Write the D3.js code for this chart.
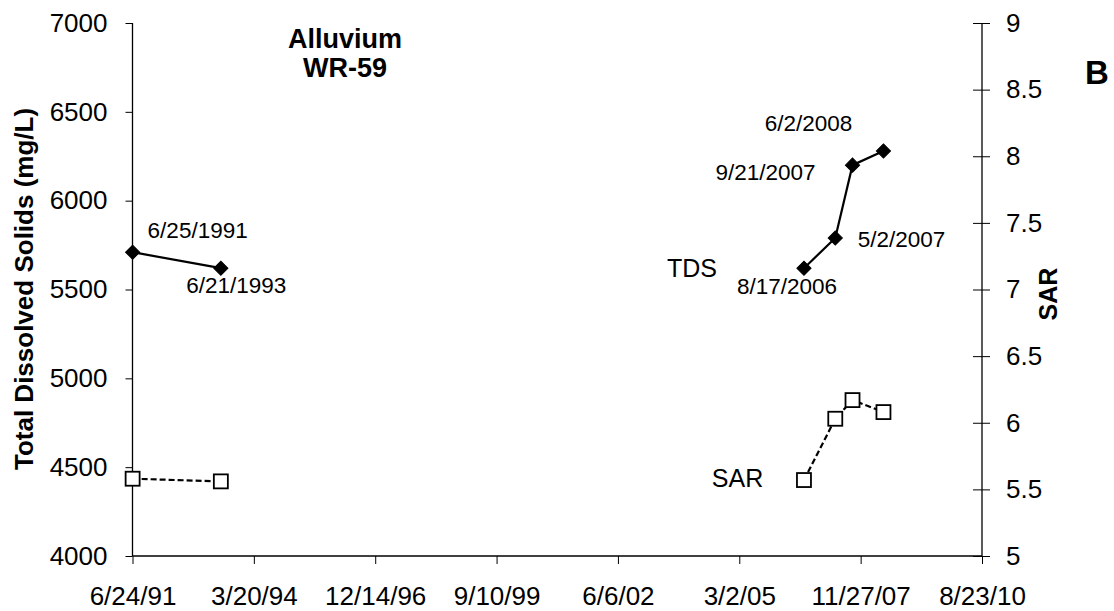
<!DOCTYPE html>
<html>
<head>
<meta charset="utf-8">
<script src="https://cdn.jsdelivr.net/npm/d3@7"></script>
<style>
  html, body { margin: 0; padding: 0; background: #fff; }
  svg { display: block; font-family: "Liberation Sans", Arial, sans-serif; }
</style>
</head>
<body>
<svg id="chart" width="1114" height="611"></svg>
<script>
// ---- data ----
const tdsDates = ["6/25/1991", "6/21/1993", "8/17/2006", "5/2/2007", "9/21/2007", "6/2/2008"];
const tdsValues = [5710, 5620, 5620, 5790, 6200, 6280];
const tdsGroup = [0, 0, 1, 1, 1, 1];
const sarDates = ["6/25/1991", "6/21/1993", "8/17/2006", "5/2/2007", "9/21/2007", "6/2/2008"];
const sarValues = [5.58, 5.56, 5.57, 6.03, 6.17, 6.08];
const sarGroup = [0, 0, 1, 1, 1, 1];
const xTickLabels = ["6/24/91", "3/20/94", "12/14/96", "9/10/99", "6/6/02", "3/2/05", "11/27/07", "8/23/10"];
const leftTicks = [4000, 4500, 5000, 5500, 6000, 6500, 7000];
const rightTicks = [5, 5.5, 6, 6.5, 7, 7.5, 8, 8.5, 9];
const titleLines = ["Alluvium", "WR-59"];

// ---- layout (label placement config) ----
const dateLabelOffsets = [
  { dx: 15, dy: -14, anchor: "start" },
  { dx: 15.5, dy: 25, anchor: "middle" },
  { dx: -17, dy: 26, anchor: "middle" },
  { dx: 22.5, dy: 8.7, anchor: "start" },
  { dx: -37, dy: 15, anchor: "end" },
  { dx: -75, dy: -20, anchor: "middle" }
];

const parse = d3.timeParse("%m/%d/%Y");
const parseTick = d3.timeParse("%m/%d/%y");
const fmtTick = d3.timeFormat("%-m/%-d/%y");
const tickDates = xTickLabels.map(parseTick);

const tds = tdsDates.map((d, i) => ({ date: parse(d), v: tdsValues[i], g: tdsGroup[i], label: d }));
const sar = sarDates.map((d, i) => ({ date: parse(d), v: sarValues[i], g: sarGroup[i] }));

const svg = d3.select("#chart");
const L = 132.5, R = 982, T = 23, B = 556;

const x = d3.scaleTime().domain([tickDates[0], tickDates[tickDates.length - 1]]).range([L, R]);
const yL = d3.scaleLinear().domain([4000, 7000]).range([B, T]);
const yR = d3.scaleLinear().domain([5, 9]).range([B, T]);

const tickFont = "26px";

// left axis
const gL = svg.append("g").attr("transform", `translate(${L},0)`)
  .call(d3.axisLeft(yL).tickValues(leftTicks).tickSize(7).tickPadding(18).tickFormat(d3.format("d")));
// right axis
const gR = svg.append("g").attr("transform", `translate(${R},0)`)
  .call(d3.axisRight(yR).tickValues(rightTicks).tickSize(8).tickPadding(16).tickFormat(d => d));
gR.selectAll(".tick line").attr("x1", -9);
// bottom axis
const gB = svg.append("g").attr("transform", `translate(0,${B})`)
  .call(d3.axisBottom(x).tickValues(tickDates).tickSize(8).tickPadding(24).tickFormat(fmtTick));

[gL, gR, gB].forEach(g => {
  g.select(".domain").attr("stroke", "#000").attr("stroke-width", 1.3);
  g.selectAll(".tick line").attr("stroke", "#000").attr("stroke-width", 1);
  g.selectAll(".tick text").attr("fill", "#000").style("font-size", tickFont)
    .style("font-family", '"Liberation Sans", Arial, sans-serif');
});
gL.select(".domain").attr("d", `M0,${T}V${B}`);
gR.select(".domain").attr("d", `M0,${T}V${B}`);
gB.select(".domain").attr("d", `M${L},0H${R}`);
gB.selectAll(".tick text").attr("dy", "0.71em").attr("y", 31);

// lines
const lineL = d3.line().x(d => x(d.date)).y(d => yL(d.v));
const lineR = d3.line().x(d => x(d.date)).y(d => yR(d.v));

d3.groups(tds, d => d.g).forEach(([, pts]) => {
  svg.append("path").attr("d", lineL(pts)).attr("fill", "none")
    .attr("stroke", "#000").attr("stroke-width", 2.2);
});
d3.groups(sar, d => d.g).forEach(([, pts]) => {
  svg.append("path").attr("d", lineR(pts)).attr("fill", "none")
    .attr("stroke", "#000").attr("stroke-width", 2.2).attr("stroke-dasharray", "6,3");
});

// markers
const diamond = d3.symbol().type(d3.symbolSquare).size(100);
svg.selectAll(".tdsm").data(tds).join("path")
  .attr("d", diamond)
  .attr("transform", d => `translate(${x(d.date)},${yL(d.v)}) rotate(45)`)
  .attr("fill", "#000").attr("stroke", "#000").attr("stroke-width", 1);

svg.selectAll(".sarm").data(sar).join("rect")
  .attr("x", d => x(d.date) - 7).attr("y", d => yR(d.v) - 7)
  .attr("width", 14).attr("height", 14)
  .attr("fill", "#fff").attr("stroke", "#000").attr("stroke-width", 1.8);

// date labels
svg.selectAll(".dl").data(tds).join("text")
  .attr("x", (d, i) => x(d.date) + dateLabelOffsets[i].dx)
  .attr("y", (d, i) => yL(d.v) + dateLabelOffsets[i].dy)
  .attr("text-anchor", (d, i) => dateLabelOffsets[i].anchor)
  .style("font-size", "22.5px").attr("fill", "#000")
  .text(d => d.label);

// series labels
svg.append("text").attr("x", x(tds[2].date) - 87).attr("y", yL(tds[2].v) + 8.7)
  .attr("text-anchor", "end").style("font-size", "25px").text("TDS");
svg.append("text").attr("x", x(sar[2].date) - 40.7).attr("y", yR(sar[2].v) + 7.3)
  .attr("text-anchor", "end").style("font-size", "25px").text("SAR");

// axis titles
svg.append("text").attr("transform", `translate(33,289) rotate(-90)`)
  .attr("text-anchor", "middle").style("font-size", "26px").style("font-weight", "bold")
  .text("Total Dissolved Solids (mg/L)");
svg.append("text").attr("transform", `translate(1057,294) rotate(-90)`)
  .attr("text-anchor", "middle").style("font-size", "25px").style("font-weight", "bold")
  .text("SAR");

// title
svg.append("text").attr("x", 345).attr("y", 48).attr("text-anchor", "middle")
  .style("font-size", "27px").style("font-weight", "bold").text(titleLines[0]);
svg.append("text").attr("x", 345).attr("y", 77).attr("text-anchor", "middle")
  .style("font-size", "27px").style("font-weight", "bold").text(titleLines[1]);

// panel letter
svg.append("text").attr("x", 1085).attr("y", 84)
  .style("font-size", "33px").style("font-weight", "bold").text("B");
</script>
</body>
</html>
